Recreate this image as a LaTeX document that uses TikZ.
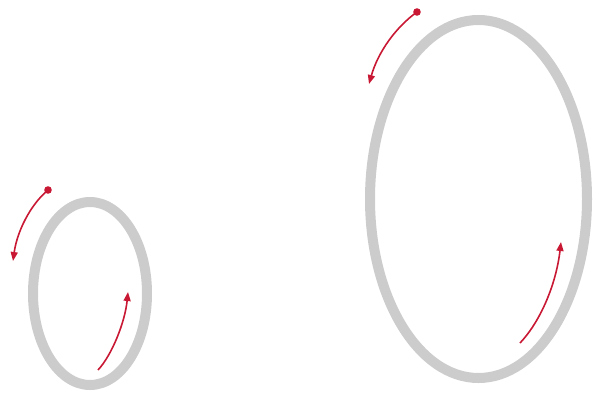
\documentclass[tikz,border=0pt]{standalone}
\usetikzlibrary{arrows.meta}
\definecolor{ringgray}{RGB}{204,204,204}
\definecolor{arrred}{RGB}{200,24,52}
\tikzset{
  ring/.style={draw=ringgray, line width=10pt},
  turn/.style={draw=arrred, line width=1.6pt, -{Triangle[length=9pt,width=7pt]}},
  startdot/.style={fill=arrred, draw=none}
}
\begin{document}
\begin{tikzpicture}[x=1pt,y=-1pt]
\useasboundingbox (0,0) rectangle (594,394);
% rings
\draw[ring] (90,293.5) ellipse [x radius=57, y radius=91.5];
\draw[ring] (478.5,199) ellipse [x radius=108.5, y radius=179];
% small ring arrows
\coordinate (s1) at (48,190);
\coordinate (e1) at (13,261);
\fill[startdot] (s1) circle (3.8);
\draw[turn] (s1) .. controls (30,205) and (17,232) .. (e1);
\coordinate (s2) at (98,370);
\coordinate (e2) at (128,292);
\draw[turn] (s2) .. controls (112,355) and (125,322) .. (e2);
% large ring arrows
\coordinate (s3) at (417,12);
\coordinate (e3) at (369,84);
\fill[startdot] (s3) circle (3.8);
\draw[turn] (s3) .. controls (396,27) and (378,52) .. (e3);
\coordinate (s4) at (520,343);
\coordinate (e4) at (561,242);
\draw[turn] (s4) .. controls (540,322) and (556,285) .. (e4);
\end{tikzpicture}
\end{document}
